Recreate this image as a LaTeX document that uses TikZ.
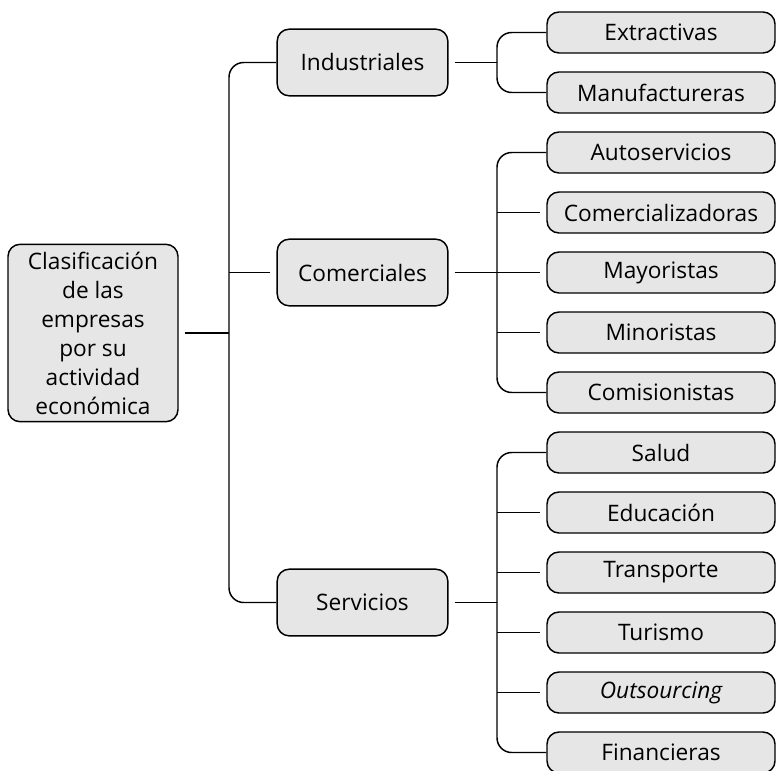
\documentclass[tikz,border=0pt]{standalone}
\usepackage{fontspec}
\setmainfont{Open Sans}
\begin{document}
\begin{tikzpicture}[x=0.75pt,y=-0.75pt,
  box/.style={draw=black,line width=1.1pt,fill=boxgray,rounded corners=9pt,inner sep=0pt,font=\fontsize{17}{21}\selectfont},
  leaf/.style={box,minimum width=171pt,minimum height=30.75pt},
  mid/.style={box,minimum width=128pt,minimum height=50pt},
  conn/.style={line width=1.1pt,black},
  gap/.style={shorten >=4.5pt},
  gapl/.style={shorten <=4.5pt}]
\definecolor{boxgray}{HTML}{E6E6E6}
\useasboundingbox (0,0) rectangle (777,770);
% root
\node[box,minimum width=127.5pt,minimum height=133pt,align=center,font=\fontsize{17}{21.75}\selectfont] (root) at (93,333)
  {Clasificación\\de las\\empresas\\por su\\actividad\\económica};
% middle
\node[mid] (ind) at (362.5,62.5) {Industriales};
\node[mid] (com) at (362.5,272.5) {Comerciales};
\node[mid] (ser) at (362.5,602.5) {Servicios};
% leaves
\node[leaf] (ext) at (661,32.5) {Extractivas};
\node[leaf] (man) at (661,92.5) {Manufactureras};
\node[leaf] (aut) at (661,152.5) {Autoservicios};
\node[leaf] (cze) at (661,212.5) {Comercializadoras};
\node[leaf] (may) at (661,272.5) {Mayoristas};
\node[leaf] (min) at (661,332.5) {Minoristas};
\node[leaf] (cmi) at (661,392.5) {Comisionistas};
\node[leaf] (sal) at (661,452.5) {Salud};
\node[leaf] (edu) at (661,512.5) {Educación};
\node[leaf] (tra) at (661,572.5) {Transporte};
\node[leaf] (tur) at (661,632.5) {Turismo};
\node[leaf] (out) at (661,692.5) {\itshape Outsourcing};
\node[leaf] (fin) at (661,752.5) {Financieras};
% coordinates
\coordinate (tr) at (229,333);
\coordinate (bi) at (497,62.5);
\coordinate (bs) at (497,602.5);
% trunk
\draw[conn,gapl] (root.east) -- (tr);
\draw[conn,rounded corners=11pt] (ind.west) -- (229,62.5) -- (229,602.5) -- (ser.west);
\draw[conn,gap] (229,272.5) -- (com.west);
% industriales
\draw[conn,gapl] (ind.east) -- (bi);
\draw[conn,rounded corners=11pt] (ext.west) -- (497,32.5) -- (497,92.5) -- (man.west);
% comerciales
\draw[conn,gapl,gap] (com.east) -- (may.west);
\draw[conn,rounded corners=11pt] (aut.west) -- (497,152.5) -- (497,392.5) -- (cmi.west);
\draw[conn,gap] (497,212.5) -- (cze.west);
\draw[conn,gap] (497,332.5) -- (min.west);
% servicios
\draw[conn,gapl] (ser.east) -- (bs);
\draw[conn,rounded corners=11pt] (sal.west) -- (497,452.5) -- (497,752.5) -- (fin.west);
\draw[conn,gap] (497,512.5) -- (edu.west);
\draw[conn,gap] (497,572.5) -- (tra.west);
\draw[conn,gap] (497,632.5) -- (tur.west);
\draw[conn,gap] (497,692.5) -- (out.west);
\end{tikzpicture}
\end{document}
